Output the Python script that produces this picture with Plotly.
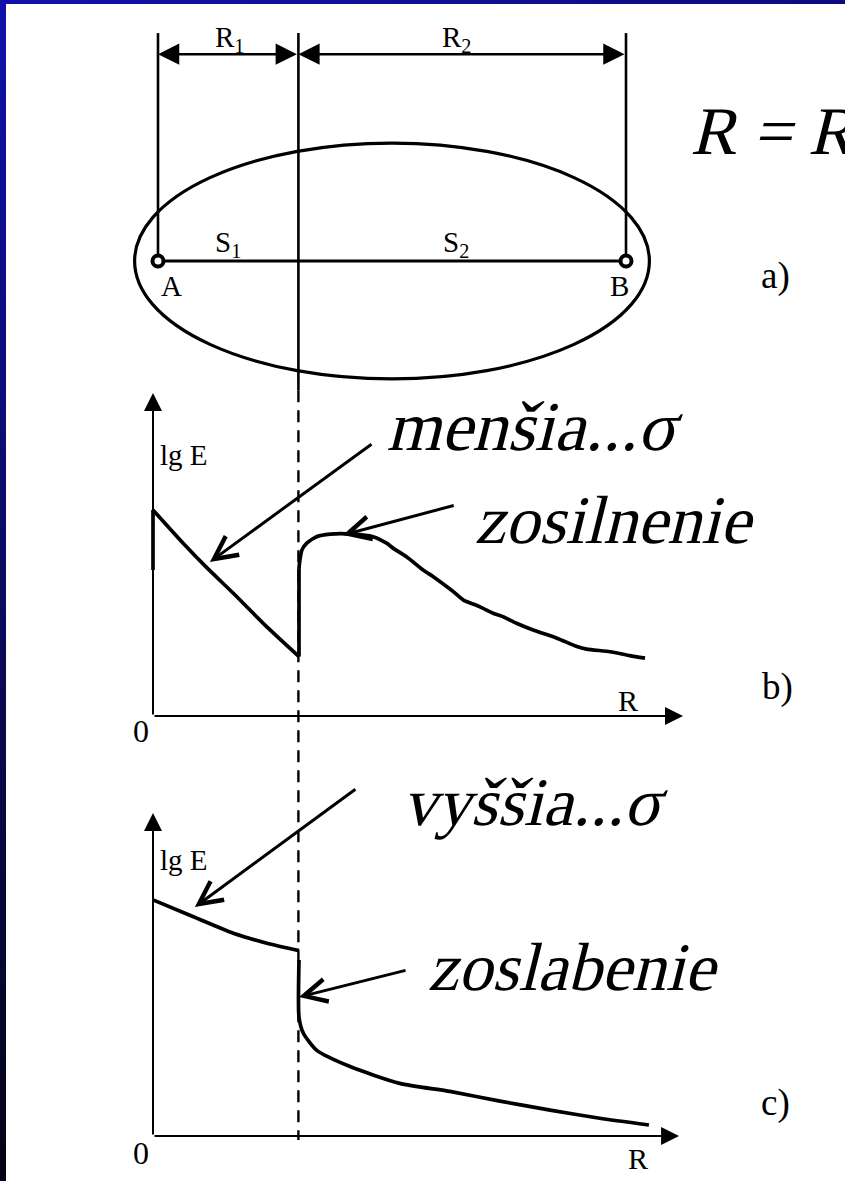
import plotly.graph_objects as go

W, H = 845, 1181

# ---------------- schematic (a): electrodes A, B and the boundary ----------------
R1 = 3.0                     # distance A -> boundary
R2 = 7.0                     # distance boundary -> B
ELLIPSE_CENTER = 5.0
ELLIPSE_HALF_WIDTH = 5.5
ELLIPSE_HALF_HEIGHT = 2.52
DIM_TOP = 4.87               # top of the dimension lines
DIM_LEVEL = 4.42             # level of the R1 / R2 dimension arrows
SOLID_BOTTOM = -2.76         # boundary line turns dashed below this level
DASH_BOTTOM = -18.78

# ---------------- (b) lower conductivity in the first medium -------------------
b_edge_r = [0.00, 0.00]
b_edge_lgE = [4.52, 6.38]
b1_r = [0.00, 0.62, 1.10, 1.65, 2.34, 3.00]
b1_lgE = [6.38, 5.35, 4.60, 3.80, 2.76, 1.84]
b_jump_r = [3.00, 3.00]
b_jump_lgE = [1.84, 4.58]
b2_r = [3.00, 3.02, 3.06, 3.16, 3.36, 3.64, 4.11, 4.52, 4.80, 4.94, 5.21, 5.55, 5.76,
        6.04, 6.17, 6.38, 6.72, 6.99, 7.20, 7.47, 7.81, 8.30, 8.71, 8.91, 9.39, 9.80, 10.11]
b2_lgE = [4.58, 4.85, 5.14, 5.35, 5.55, 5.63, 5.63, 5.55, 5.35, 5.19, 4.93, 4.52, 4.31,
          4.00, 3.85, 3.59, 3.38, 3.18, 3.07, 2.87, 2.66, 2.41, 2.15, 2.07, 1.99, 1.87, 1.79]

# ---------------- (c) higher conductivity in the first medium ------------------
c1_r = [0.00, 0.83, 1.65, 2.34, 3.00]
c1_lgE = [7.31, 6.79, 6.28, 5.97, 5.74]
c2_r = [3.00, 3.00, 3.09, 3.36, 4.05, 5.07, 6.10, 7.13, 8.16, 9.18, 10.19]
c2_lgE = [5.45, 3.68, 3.18, 2.66, 2.15, 1.63, 1.38, 1.08, 0.80, 0.55, 0.34]

R_AXIS_END_B = 10.89
R_AXIS_END_C = 10.81
LGE_AXIS_END = 10.0

# pointer arrows: (tip R, tip lgE, tail R, tail lgE)
ptr_mensia = (1.17, 4.77, 4.52, 8.45)
ptr_zosilnenie = (3.90, 5.60, 6.21, 6.53)
ptr_vyssia = (0.86, 7.09, 4.19, 10.77)
ptr_zoslabenie = (3.00, 4.30, 5.22, 5.14)

# ---------------- layout geometry (pixels) ----------------
A_PX, AB_PY, A_PPU = 158, 261, 46.8          # schematic origin and scale
G_PX, G_PPU_X, G_PPU_Y = 153, 146 / 3, 32.3  # graph origin x and scales
B_PY, C_PY = 716, 1136                       # graph (b) and (c) R-axis levels

SERIF = "Liberation Serif"
BLACK = "black"
BIG = 68                                     # size of the slanted captions


def px(xp):
    return xp / W


def py(yp):
    return 1 - yp / H


def x_range(origin, ppu):
    return [-origin / ppu, (W - origin) / ppu]


def y_range(origin, ppu):
    return [(origin - H) / ppu, origin / ppu]


fig = go.Figure()


def line(x, y, ax, width=3.7, dash=None, shape="linear"):
    xa, ya = ax
    fig.add_trace(go.Scatter(
        x=x, y=y, mode="lines", xaxis=xa, yaxis=ya,
        line=dict(color=BLACK, width=width, dash=dash, shape=shape, smoothing=0.6),
        hoverinfo="skip", showlegend=False))


A_AX = ("x", "y")
B_AX = ("x2", "y2")
C_AX = ("x3", "y3")

# schematic
B_POS = R1 + R2
line([0, B_POS], [0, 0], A_AX, width=3)
line([0, 0], [0, DIM_TOP], A_AX, width=2.6)
line([B_POS, B_POS], [0, DIM_TOP], A_AX, width=2.6)
line([R1, R1], [DIM_TOP, SOLID_BOTTOM], A_AX, width=2.6)
line([R1, R1], [SOLID_BOTTOM, DASH_BOTTOM], A_AX, width=2.4, dash="12px,8px")
fig.add_trace(go.Scatter(
    x=[0, B_POS], y=[0, 0], mode="markers", xaxis="x", yaxis="y",
    marker=dict(symbol="circle", size=11, color="white", line=dict(color=BLACK, width=4)),
    hoverinfo="skip", showlegend=False))

fig.add_shape(type="circle", xref="x", yref="y",
              x0=ELLIPSE_CENTER - ELLIPSE_HALF_WIDTH, x1=ELLIPSE_CENTER + ELLIPSE_HALF_WIDTH,
              y0=-ELLIPSE_HALF_HEIGHT, y1=ELLIPSE_HALF_HEIGHT,
              line=dict(color=BLACK, width=3.2))

# graph (b)
line(b_edge_r, b_edge_lgE, B_AX)
line(b1_r, b1_lgE, B_AX, shape="spline")
line(b_jump_r, b_jump_lgE, B_AX)
line(b2_r, b2_lgE, B_AX, shape="spline")

# graph (c)
line(c1_r, c1_lgE, C_AX, shape="spline")
line(c2_r, c2_lgE, C_AX, shape="spline")

annotations = []


def arrow(x, y, ax, ay, axes, width=2, head=2, size=1.8, both=False):
    xa, ya = axes
    annotations.append(dict(
        x=x, y=y, ax=ax, ay=ay, xref=xa, yref=ya, axref=xa, ayref=ya,
        text="", showarrow=True, arrowhead=head, arrowsize=size, arrowwidth=width,
        arrowcolor=BLACK, arrowside="end+start" if both else "end",
        startarrowhead=head, startarrowsize=size))


# dimension arrows R1, R2
arrow(0, DIM_LEVEL, R1, DIM_LEVEL, A_AX, width=2.5, size=1.7, both=True)
arrow(R1, DIM_LEVEL, B_POS, DIM_LEVEL, A_AX, width=2.5, size=1.7, both=True)

# coordinate axes
for axes, r_end in ((B_AX, R_AXIS_END_B), (C_AX, R_AXIS_END_C)):
    arrow(r_end, 0, 0, 0, axes)
    arrow(0, LGE_AXIS_END, 0, 0, axes)

# pointer arrows
for axes, p in ((B_AX, ptr_mensia), (B_AX, ptr_zosilnenie),
                (C_AX, ptr_vyssia), (C_AX, ptr_zoslabenie)):
    arrow(p[0], p[1], p[2], p[3], axes, width=3, head=5, size=1.5)


def label(text, xp, yp, size=29, xanchor="center"):
    annotations.append(dict(
        x=px(xp), y=py(yp), xref="paper", yref="paper", text=text, showarrow=False,
        xanchor=xanchor, yanchor="middle",
        font=dict(family=SERIF, size=size, color=BLACK)))


label("R<sub>1</sub>", 229, 39)
label("R<sub>2</sub>", 456, 39)
label("S<sub>1</sub>", 228, 244)
label("S<sub>2</sub>", 456, 244)
label("A", 171, 286)
label("B", 619, 286)
label("a)", 775, 276, size=37)
label("R = R<sub>1</sub> + R<sub>2</sub>", 687, 135, size=BIG, xanchor="left")

label("lg E", 158, 455, size=29, xanchor="left")
label("0", 141, 731, size=32)
label("R", 628, 700, size=30)
label("b)", 777, 687, size=37)
label("menšia...σ", 385, 427, size=BIG + 2, xanchor="left")
label("zosilnenie", 473, 520, size=BIG, xanchor="left")

label("lg E", 158, 860, size=29, xanchor="left")
label("0", 141, 1153, size=32)
label("R", 638, 1158, size=30)
label("c)", 775, 1103, size=37)
label("vyššia...σ", 401, 802, size=BIG, xanchor="left")
label("zoslabenie", 426, 967, size=BIG, xanchor="left")

# slide frame: blue bar on top, blue-to-black bar on the left
N = 60
for i in range(N):
    t = i / (N - 1)
    r = round(17 + (4 - 17) * t)
    b = round(170 + (22 - 170) * t)
    fig.add_shape(type="rect", xref="paper", yref="paper", layer="above",
                  x0=0, x1=px(6), y0=py(H * (i + 1) / N + 1), y1=py(H * i / N),
                  line=dict(width=0), fillcolor=f"rgb({r},{r},{b})")
for i in range(N):
    t = i / (N - 1)
    b = round(170 + (128 - 170) * t)
    rg = round(17 + (12 - 17) * t)
    fig.add_shape(type="rect", xref="paper", yref="paper", layer="above",
                  x0=px(W * i / N), x1=px(W * (i + 1) / N + 1), y0=py(4), y1=1,
                  line=dict(width=0), fillcolor=f"rgb({rg},{rg},{b})")

hidden = dict(visible=False, fixedrange=True, domain=[0, 1])
fig.update_layout(
    width=W, height=H, margin=dict(l=0, r=0, t=0, b=0),
    paper_bgcolor="white", plot_bgcolor="rgba(0,0,0,0)",
    xaxis=dict(hidden, range=x_range(A_PX, A_PPU), anchor="y"),
    yaxis=dict(hidden, range=y_range(AB_PY, A_PPU), anchor="x"),
    xaxis2=dict(hidden, range=x_range(G_PX, G_PPU_X), anchor="y2"),
    yaxis2=dict(hidden, range=y_range(B_PY, G_PPU_Y), anchor="x2"),
    xaxis3=dict(hidden, range=x_range(G_PX, G_PPU_X), anchor="y3"),
    yaxis3=dict(hidden, range=y_range(C_PY, G_PPU_Y), anchor="x3"),
    annotations=annotations,
)

# the large captions are set in a slanted serif
SLANT_JS = """
var slant = function () {
  var gd = document.getElementById('{plot_id}');
  if (!gd) { return; }
  gd.querySelectorAll('.annotation-text').forEach(function (el) {
    if (parseFloat(el.style.fontSize) >= %d) {
      el.style.transformBox = 'fill-box';
      el.style.transformOrigin = '0%% 78%%';
      el.style.transform = 'skewX(-14deg)';
    }
  });
};
slant();
setTimeout(slant, 50);
""" % BIG

fig.write_html("out.html", config={"displayModeBar": False}, post_script=SLANT_JS)
